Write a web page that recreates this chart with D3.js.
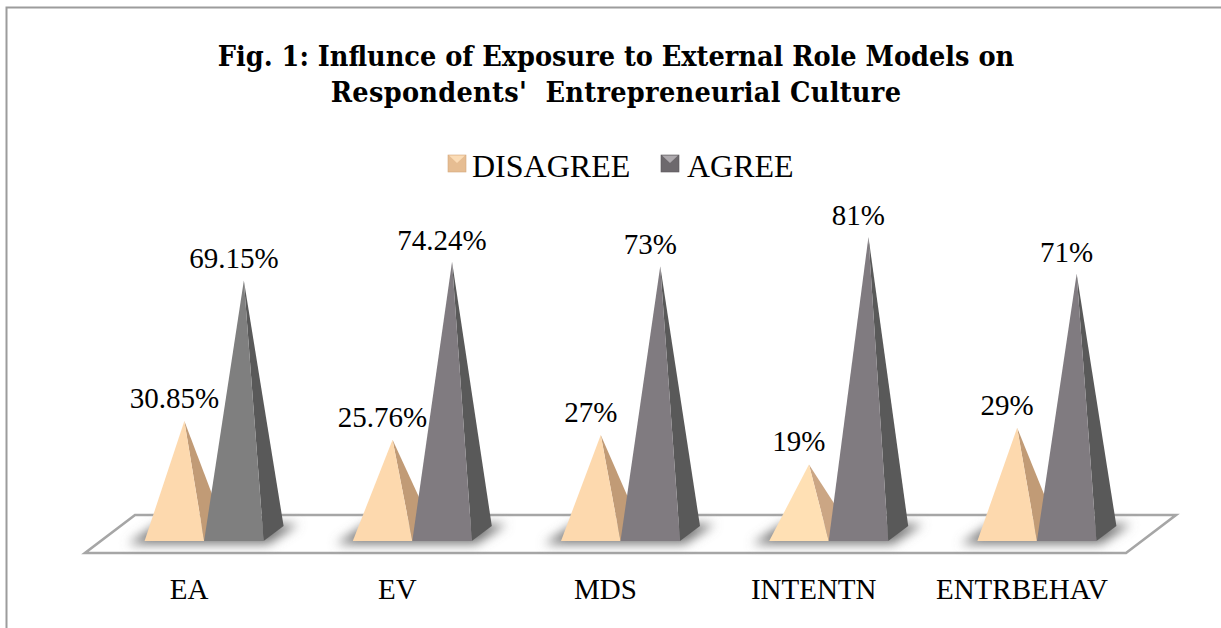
<!DOCTYPE html>
<html>
<head>
<meta charset="utf-8">
<script src="https://cdn.jsdelivr.net/npm/d3@7/dist/d3.min.js"></script>
<style>
html,body{margin:0;padding:0;background:#fff;overflow:hidden}
svg{display:block}
text{fill:#000}
</style>
</head>
<body>
<svg id="chart" width="1221" height="628"></svg>
<script>
const categories = ["EA","EV","MDS","INTENTN","ENTRBEHAV"];
const disagree = [30.85,25.76,27,19,29];
const agree = [69.15,74.24,73,81,71];
const disagreeLabels = ["30.85%","25.76%","27%","19%","29%"];
const agreeLabels = ["69.15%","74.24%","73%","81%","71%"];
const titleLines = ["Fig. 1: Influnce of Exposure to External Role Models on","Respondents'  Entrepreneurial Culture"];
const seriesNames = ["DISAGREE","AGREE"];
const disagreeFront = ["#fdd9ae","#fdd9ae","#fdd9ae","#ffe0b4","#fdd9ae"];
const disagreeSide = ["#c19b76","#c19b76","#c19b76","#cba684","#c19b76"];
const agreeFront = ["#7f7f7f","#807b80","#807b80","#807b80","#807b80"];
const agreeSide = ["#595959","#595959","#595959","#595959","#595959"];

const svg = d3.select("#chart");
const serif = "'Liberation Serif', serif";
const baseY = 541, depthX = 20, depthY = 15, barW = 59.5, floorFront = 553, floorBack = 515, floorSkew = 50;

const x = d3.scaleBand().domain(categories).range([85,1126]).padding(0);
// zero sits at the mid-depth of the pyramid base, which is why it is above the front edge
const y = d3.scaleLinear().domain([0,100]).range([534.2, 534.2-367]);
const centre = c => x(c) + x.bandwidth()/2 + 15;

const defs = svg.append("defs");
defs.append("filter").attr("id","soft").attr("x","-30%").attr("y","-60%").attr("width","160%").attr("height","220%")
  .append("feGaussianBlur").attr("stdDeviation",5.5);

// outer frame
svg.append("rect").attr("x",6.5).attr("y",7.5).attr("width",1300).attr("height",700)
  .attr("fill","#fff").attr("stroke","#9c9c9c").attr("stroke-width",2);

// title
svg.append("g").selectAll("text").data(titleLines).join("text")
  .attr("x",616).attr("y",(d,i)=>66+i*36).attr("text-anchor","middle")
  .attr("font-family","'DejaVu Serif Condensed', 'DejaVu Serif', serif").attr("font-weight","bold").attr("font-size",28.5)
  .attr("letter-spacing",(d,i)=>i?0.3:0)
  .style("white-space","pre").attr("xml:space","preserve").text(d=>d);

// legend
const legendX = [448,661], legendTextX = [472,687];
const legendBase = ["#e6bd92","#6d696d"], legendTop = ["#fbdcb6","#aeaaae"], legendSide = ["#d3a97e","#5d595d"];
const lg = svg.append("g");
seriesNames.forEach((n,i)=>{
  const lx = legendX[i];
  lg.append("rect").attr("x",lx).attr("y",155).attr("width",18).attr("height",17).attr("fill",legendBase[i]).attr("stroke",legendSide[i]).attr("stroke-width",.6);
  lg.append("path").attr("d",d3.line()([[lx+1,155.5],[lx+17,155.5],[lx+9,163]])).attr("fill",legendTop[i]);
  lg.append("text").attr("x",legendTextX[i]).attr("y",177).attr("font-family",serif).attr("font-size",32).text(n);
});

// floor
svg.append("path")
  .attr("d",d3.line()([[x.range()[0],floorFront],[x.range()[1],floorFront],[x.range()[1]+floorSkew,floorBack],[x.range()[0]+floorSkew,floorBack]])+"Z")
  .attr("fill","#fff").attr("stroke","#a6a6a6").attr("stroke-width",2.6).attr("stroke-linejoin","miter");

// shadows
svg.append("g").selectAll("path").data(categories).join("path")
  .attr("filter","url(#soft)").attr("fill","#767676")
  .attr("d",c=>{
    const m = centre(c);
    return d3.line()([[m-76,544],[m+64,544],[m+94,524],[m-46,524]])+"Z";
  });

// pyramids
function pyramid(g, cx, value, front, side){
  const top = y(value), l = cx, r = cx+barW, ax = cx+barW/2+depthX/2;
  g.append("path").attr("d",d3.line()([[r,baseY],[r+depthX,baseY-depthY],[ax,top]])+"Z").attr("fill",side);
  g.append("path").attr("d",d3.line()([[l,baseY],[r,baseY],[ax,top]])+"Z").attr("fill",front);
}
const marks = svg.append("g");
categories.forEach((c,i)=>{
  const m = centre(c);
  pyramid(marks, m-barW, disagree[i], disagreeFront[i], disagreeSide[i]);
  pyramid(marks, m, agree[i], agreeFront[i], agreeSide[i]);
});

// value labels
const labels = svg.append("g").attr("font-family",serif).attr("font-size",29).attr("text-anchor","middle");
categories.forEach((c,i)=>{
  const m = centre(c);
  labels.append("text").attr("x",m-barW/2).attr("y",y(disagree[i])-13).text(disagreeLabels[i]);
  labels.append("text").attr("x",m+barW/2).attr("y",y(agree[i])-12).text(agreeLabels[i]);
});

// category axis
const axis = d3.axisBottom(x).tickSize(0).tickPadding(0);
const ag = svg.append("g").attr("transform","translate(0,599)").call(axis);
ag.select(".domain").remove();
ag.selectAll("text").attr("y",0).attr("dy",0).attr("font-family",serif).attr("font-size",29).attr("fill","#000");
</script>
</body>
</html>
